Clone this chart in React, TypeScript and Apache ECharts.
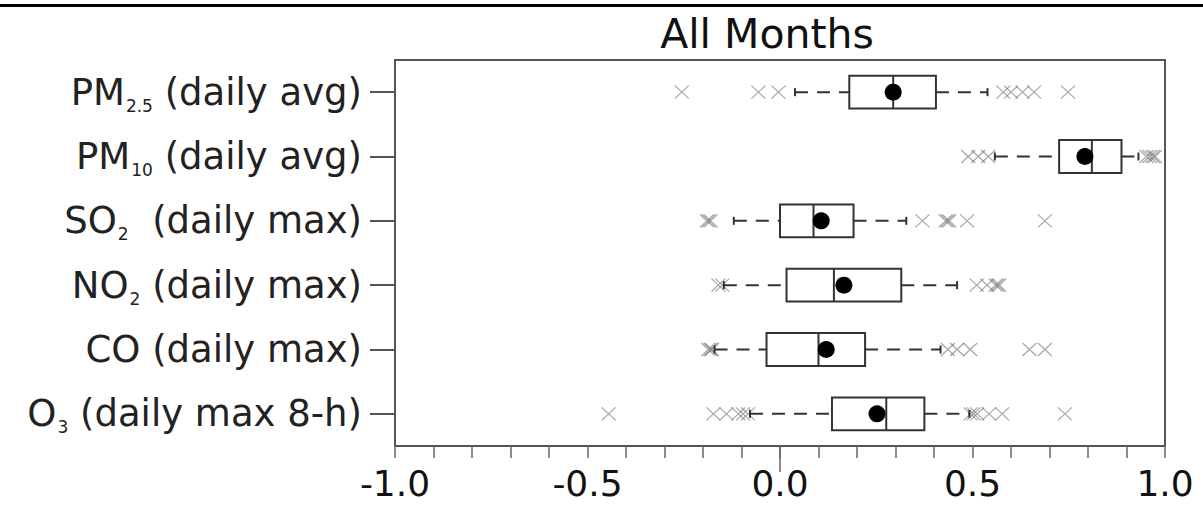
import React, { useEffect, useRef } from "react";
import * as echarts from "echarts";

const categories = [
  "PM2.5 (daily avg)",
  "PM10 (daily avg)",
  "SO2  (daily max)",
  "NO2 (daily max)",
  "CO (daily max)",
  "O3 (daily max 8-h)",
];
const labelBase = ["PM", "PM", "SO", "NO", "CO", "O"];
const labelSub = ["2.5", "10", "2", "2", "", "3"];
const labelRest = [" (daily avg)", " (daily avg)", "  (daily max)", " (daily max)", " (daily max)", " (daily max 8-h)"];

const whiskerLow = [0.039, 0.558, -0.12, -0.146, -0.17, -0.078];
const q1 = [0.18, 0.725, 0.0, 0.017, -0.035, 0.135];
const median = [0.294, 0.81, 0.087, 0.14, 0.1, 0.276];
const q3 = [0.405, 0.887, 0.191, 0.315, 0.221, 0.375];
const whiskerHigh = [0.539, 0.931, 0.328, 0.46, 0.417, 0.492];
const means = [0.294, 0.792, 0.107, 0.166, 0.12, 0.252];

const outliers: number[][] = [
  [-0.255, -0.056, -0.004, 0.58, 0.6, 0.63, 0.66, 0.748],
  [0.489, 0.515, 0.541, 0.952, 0.96, 0.968, 0.974],
  [-0.19, -0.185, -0.18, 0.37, 0.43, 0.435, 0.44, 0.486, 0.688],
  [-0.16, -0.15, 0.511, 0.538, 0.56, 0.565, 0.57],
  [-0.186, -0.18, -0.177, 0.436, 0.46, 0.494, 0.648, 0.688],
  [-0.445, -0.173, -0.139, -0.108, -0.096, -0.083, 0.495, 0.503, 0.512, 0.543, 0.577, 0.74],
];

const xTickLabels = ["-1.0", "-0.5", "0.0", "0.5", "1.0"];
// positions of the minor ticks, -1.0 .. 1.0 in steps of 0.1 (used for the long zero tick)
const minorTickNames = [
  "-1.0", "-0.9", "-0.8", "-0.7", "-0.6", "-0.5", "-0.4", "-0.3", "-0.2", "-0.1", "0.0",
  "0.1", "0.2", "0.3", "0.4", "0.5", "0.6", "0.7", "0.8", "0.9", "1.0",
];

const FONT = "DejaVu Sans";

export default function App() {
  const ref = useRef<HTMLDivElement>(null);
  useEffect(() => {
    if (!ref.current) return;
    const chart = echarts.init(ref.current, undefined, { renderer: "svg" });

    const boxData = categories.map((_, i) => [
      i,
      whiskerLow[i],
      q1[i],
      median[i],
      q3[i],
      whiskerHigh[i],
      means[i],
    ]);
    const outlierData: number[][] = [];
    outliers.forEach((arr, i) => arr.forEach((v) => outlierData.push([v, i])));

    const stroke = "#333";

    const option: any = {
      animation: false,
      backgroundColor: "#fff",
      textStyle: { fontFamily: FONT },
      graphic: [
        {
          type: "rect",
          shape: { x: 0, y: 4, width: 1203, height: 3 },
          style: { fill: "#000" },
          silent: true,
        },
        {
          type: "text",
          x: 767,
          y: 13,
          style: {
            text: "All Months",
            fontFamily: FONT,
            fontSize: 41,
            fill: "#111",
            textAlign: "center",
            textVerticalAlign: "top",
          },
        },
      ],
      grid: { left: 395, right: 38, top: 60, bottom: 59, show: true, borderColor: "#555", borderWidth: 2, backgroundColor: "transparent" },
      xAxis: [
        {
          type: "value",
          min: -1,
          max: 1,
          interval: 0.1,
          splitLine: { show: false },
          axisLine: { show: true, onZero: false, lineStyle: { color: "#555", width: 2 } },
          axisTick: { show: true, length: 12, lineStyle: { color: "#666", width: 1.5 } },
          axisLabel: {
            interval: 0,
            hideOverlap: false,
            margin: 24,
            fontFamily: FONT,
            fontSize: 36,
            lineHeight: 26,
            color: "#111",
            formatter: (v: number) => {
              const k = Math.round(v * 10);
              if (k % 5 !== 0) return "";
              return xTickLabels[k / 5 + 2];
            },
          },
        },
        {
          type: "category",
          data: minorTickNames,
          boundaryGap: false,
          position: "bottom",
          splitLine: { show: false },
          axisLine: { show: false, onZero: false },
          axisLabel: { show: false },
          axisTick: {
            show: true,
            length: 26,
            interval: (idx: number) => minorTickNames[idx] === "0.0",
            lineStyle: { color: "#666", width: 1.5 },
          },
        },
      ],
      yAxis: {
        type: "category",
        data: categories,
        inverse: true,
        axisLine: { show: true, onZero: false, lineStyle: { color: "#555", width: 2 } },
        axisTick: { show: true, length: 25, alignWithLabel: true, lineStyle: { color: "#555", width: 2 } },
        splitLine: { show: false },
        axisLabel: {
          margin: 33,
          interval: 0,
          formatter: (_: string, idx: number) =>
            `{m|${labelBase[idx]}}` + (labelSub[idx] ? `{s|${labelSub[idx]}}` : "") + `{m|${labelRest[idx]}}`,
          rich: {
            m: { fontFamily: FONT, fontSize: 37, color: "#222", lineHeight: 44 },
            s: { fontFamily: FONT, fontSize: 17, color: "#222", lineHeight: 44, verticalAlign: "bottom", padding: [0, 0, 0, 1] },
          },
        },
      },
      series: [
        {
          type: "custom",
          xAxisIndex: 0,
          renderItem: (params: any, api: any) => {
            const idx = api.value(0);
            const low = api.coord([api.value(1), idx]);
            const a = api.coord([api.value(2), idx]);
            const m = api.coord([api.value(3), idx]);
            const b = api.coord([api.value(4), idx]);
            const high = api.coord([api.value(5), idx]);
            const mn = api.coord([api.value(6), idx]);
            const band = api.size([0, 1])[1];
            const hh = band * 0.255;
            const cy = a[1];
            const cap = 4;
            const lineStyle = { stroke, lineWidth: 2 };
            const dashStyle = { stroke, lineWidth: 2, lineDash: [13, 9] };
            return {
              type: "group",
              children: [
                { type: "line", shape: { x1: low[0], y1: cy, x2: a[0], y2: cy }, style: dashStyle },
                { type: "line", shape: { x1: b[0], y1: cy, x2: high[0], y2: cy }, style: dashStyle },
                { type: "line", shape: { x1: low[0], y1: cy - cap, x2: low[0], y2: cy + cap }, style: lineStyle },
                { type: "line", shape: { x1: high[0], y1: cy - cap, x2: high[0], y2: cy + cap }, style: lineStyle },
                {
                  type: "rect",
                  shape: { x: a[0], y: cy - hh, width: b[0] - a[0], height: hh * 2 },
                  style: { fill: "#fff", stroke, lineWidth: 2 },
                },
                { type: "line", shape: { x1: m[0], y1: cy - hh, x2: m[0], y2: cy + hh }, style: lineStyle },
                { type: "circle", shape: { cx: mn[0], cy, r: 8.5 }, style: { fill: "#000" } },
              ],
            };
          },
          data: boxData,
          z: 3,
        },
        {
          type: "scatter",
          xAxisIndex: 0,
          data: outlierData,
          symbol: "path://M0,0L10,10M10,0L0,10",
          symbolSize: [14, 13],
          itemStyle: { color: "none", borderColor: "rgba(100,100,100,0.7)", borderWidth: 1.2 },
          z: 2,
        },
      ],
    };
    chart.setOption(option);
    return () => chart.dispose();
  }, []);
  return (
    <div
      ref={ref}
      style={{ position: "absolute", left: 0, top: 0, width: 1203, height: 505 }}
    />
  );
}
